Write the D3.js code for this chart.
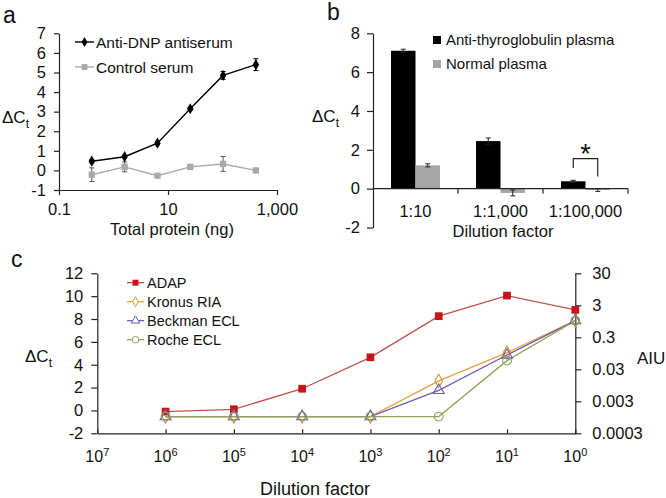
<!DOCTYPE html>
<html><head><meta charset="utf-8">
<script src="https://cdn.jsdelivr.net/npm/d3@7/dist/d3.min.js"></script>
<style>
body{margin:0;background:#fff}
svg{display:block}
text{font-family:Arial,"Liberation Sans",Helvetica,sans-serif;fill:#111}
</style>
</head><body>
<svg id="chart" width="666" height="498"></svg>
<script>
// ---------- Panel a data ----------
const aProtein = [0.4, 1.6, 6.4, 25.6, 102.4, 409.6];
const aAntiDNP = [0.47, 0.7, 1.39, 3.15, 4.85, 5.4];
const aAntiDNPErr = [0.08, 0.06, 0.08, 0.08, 0.2, 0.3];
const aControl = [-0.22, 0.18, -0.27, 0.18, 0.33, 0.0];
const aControlErr = [0.35, 0.25, 0.05, 0.06, 0.38, 0.05];
const aXTicks = [0.1, 10, 1000];
const aXTickLabels = ["0.1", "10", "1,000"];
const aYTicks = [-1, 0, 1, 2, 3, 4, 5, 6, 7];
const aSeriesNames = ["Anti-DNP antiserum", "Control serum"];

// ---------- Panel b data ----------
const bCategories = ["1:10", "1:1,000", "1:100,000"];
const bAntiTg = [7.1, 2.45, 0.38];
const bAntiTgErr = [0.08, 0.16, 0.05];
const bNormal = [1.2, -0.22, -0.07];
const bNormalErr = [0.08, 0.15, 0.07];
const bYTicks = [-2, 0, 2, 4, 6, 8];
const bSeriesNames = ["Anti-thyroglobulin plasma", "Normal plasma"];

// ---------- Panel c data ----------
const cDilution = [1e6, 1e5, 1e4, 1e3, 1e2, 1e1, 1];
const cADAP = [-0.1, 0.1, 1.9, 4.65, 8.25, 10.05, 8.8];       // ΔCt (left axis)
const cKronus = [0.001, 0.001, 0.001, 0.001, 0.013, 0.10, 1.0]; // AIU (right axis)
const cBeckman = [0.001, 0.001, 0.001, 0.001, 0.0066, 0.084, 1.0];
const cRoche = [0.001, 0.001, 0.001, 0.001, 0.001, 0.056, 1.0];
const cXTickExps = [7, 6, 5, 4, 3, 2, 1, 0];
const cLeftTicks = [-2, 0, 2, 4, 6, 8, 10, 12];
const cRightTicks = [0.0003, 0.003, 0.03, 0.3, 3, 30];
const cRightTickLabels = ["0.0003", "0.003", "0.03", "0.3", "3", "30"];
const cSeriesNames = ["ADAP", "Kronus RIA", "Beckman ECL", "Roche ECL"];

const svg = d3.select("#chart");
const AX = "#222";
const TICKFONT = 16.5;
const intFmt = d => String(d);

function styleAxis(g, fs) {
  g.attr("font-size", fs).attr("font-family", "Arial, 'Liberation Sans', sans-serif");
  g.selectAll("path.domain").attr("stroke", AX).attr("stroke-width", 1.2);
  g.selectAll(".tick line").attr("stroke", AX).attr("stroke-width", 1.2);
  g.selectAll(".tick text").attr("fill", "#111");
}
function deltaCt(x, y, fs) {
  const t = svg.append("text").attr("x", x).attr("y", y).attr("font-size", fs);
  t.append("tspan").text("ΔC");
  t.append("tspan").attr("font-size", fs * 0.72).attr("dy", fs * 0.28).text("t");
}
function panelLabel(x, y, s) {
  svg.append("text").attr("x", x).attr("y", y).attr("font-size", 23).text(s);
}

// =============== Panel a ===============
{
  const x = d3.scaleLog().domain([0.1, 1000]).range([59, 277]);
  const y = d3.scaleLinear().domain([-1, 7]).range([190, 33.3]);
  const g = svg.append("g");

  const ya = g.append("g").attr("transform", `translate(${x.range()[0]},0)`)
    .call(d3.axisLeft(y).tickValues(aYTicks).tickFormat(intFmt).tickSize(5).tickPadding(8).tickSizeOuter(0));
  styleAxis(ya, TICKFONT);
  const xa = g.append("g").attr("transform", `translate(0,${y(-1)})`)
    .call(d3.axisBottom(x).tickValues(aXTicks).tickFormat((d, i) => aXTickLabels[i]).tickSize(5).tickPadding(8).tickSizeOuter(0));
  styleAxis(xa, TICKFONT);

  const line = d3.line().x(d => x(d[0])).y(d => y(d[1]));
  const series = [
    {vals: aControl, err: aControlErr, color: "#a9a9a9", errColor: "#555", shape: d3.symbolSquare, size: 40},
    {vals: aAntiDNP, err: aAntiDNPErr, color: "#000", errColor: "#000", shape: d3.symbolDiamond, size: 36}
  ];
  series.forEach(s => {
    const pts = aProtein.map((p, i) => [p, s.vals[i], s.err[i]]);
    g.append("path").datum(pts).attr("d", line).attr("fill", "none").attr("stroke", s.color).attr("stroke-width", 1.4);
    pts.forEach(p => {
      const cx = x(p[0]);
      g.append("line").attr("x1", cx).attr("x2", cx).attr("y1", y(p[1] - p[2])).attr("y2", y(p[1] + p[2]))
        .attr("stroke", s.errColor).attr("stroke-width", 1);
      [p[1] - p[2], p[1] + p[2]].forEach(v => g.append("line").attr("x1", cx - 2.5).attr("x2", cx + 2.5)
        .attr("y1", y(v)).attr("y2", y(v)).attr("stroke", s.errColor).attr("stroke-width", 1));
    });
    g.selectAll(null).data(pts).enter().append("path")
      .attr("d", d3.symbol().type(s.shape).size(s.size))
      .attr("transform", d => `translate(${x(d[0])},${y(d[1])})`)
      .attr("fill", s.color);
  });

  // legend
  const leg = [{name: aSeriesNames[0], color: "#000", shape: d3.symbolDiamond, size: 30},
               {name: aSeriesNames[1], color: "#a9a9a9", shape: d3.symbolSquare, size: 34}];
  leg.forEach((l, i) => {
    const ly = 42 + i * 25;
    g.append("line").attr("x1", 75).attr("x2", 94).attr("y1", ly).attr("y2", ly).attr("stroke", l.color).attr("stroke-width", 1.4);
    g.append("path").attr("d", d3.symbol().type(l.shape).size(l.size)).attr("transform", `translate(84.5,${ly})`).attr("fill", l.color);
    g.append("text").attr("x", 96).attr("y", ly).attr("dy", "0.36em").attr("font-size", 15.5).text(l.name);
  });

  g.append("text").attr("x", 172).attr("y", 235).attr("text-anchor", "middle").attr("font-size", 16.5).text("Total protein (ng)");
  deltaCt(2, 123, 17);
  panelLabel(3, 23, "a");
}

// =============== Panel b ===============
{
  const x = d3.scaleBand().domain(bCategories).range([373, 628]).paddingInner(0.424).paddingOuter(0.212);
  const xs = d3.scaleBand().domain(["tg", "normal"]).range([0, x.bandwidth()]);
  const y = d3.scaleLinear().domain([-2, 8]).range([227.5, 33.3]);
  const g = svg.append("g");

  const ya = g.append("g").attr("transform", `translate(373,0)`)
    .call(d3.axisLeft(y).tickValues(bYTicks).tickFormat(intFmt).tickSize(6).tickPadding(7).tickSizeOuter(0));
  styleAxis(ya, TICKFONT);

  const data = bCategories.map((c, i) => ({c, vals: [
    {k: "tg", v: bAntiTg[i], e: bAntiTgErr[i], color: "#000"},
    {k: "normal", v: bNormal[i], e: bNormalErr[i], color: "#a6a6a6"}]}));

  data.forEach(d => {
    d.vals.forEach(b => {
      const bx = x(d.c) + xs(b.k);
      g.append("rect").attr("x", bx).attr("width", xs.bandwidth())
        .attr("y", y(Math.max(0, b.v))).attr("height", Math.abs(y(b.v) - y(0))).attr("fill", b.color);
      const cx = bx + xs.bandwidth() / 2;
      g.append("line").attr("x1", cx).attr("x2", cx).attr("y1", y(b.v - b.e)).attr("y2", y(b.v + b.e)).attr("stroke", "#222").attr("stroke-width", 1);
      [b.v - b.e, b.v + b.e].forEach(v => g.append("line").attr("x1", cx - 2.5).attr("x2", cx + 2.5)
        .attr("y1", y(v)).attr("y2", y(v)).attr("stroke", "#222").attr("stroke-width", 1));
    });
  });

  // x axis at zero
  const y0 = y(0);
  g.append("line").attr("x1", 373).attr("x2", 628).attr("y1", y0).attr("y2", y0).attr("stroke", AX).attr("stroke-width", 1.2);
  bCategories.forEach((c, i) => {
    const bx = x.range()[0] + x.step() * (i + 1);
    g.append("line").attr("x1", bx).attr("x2", bx).attr("y1", y0).attr("y2", y0 + 5).attr("stroke", AX).attr("stroke-width", 1.2);
    g.append("text").attr("x", x(c) + x.bandwidth() / 2).attr("y", y0 + 28).attr("text-anchor", "middle")
      .attr("font-size", TICKFONT).text(c);
  });

  // significance bracket
  const c3 = bCategories[2];
  const lx = x(c3) + xs("tg") + xs.bandwidth() / 2;
  const rx = x(c3) + xs("normal") + xs.bandwidth() / 2;
  g.append("path").attr("d", `M${lx},${y(1.06)}V${y(1.55)}H${rx}V${y(0.62)}`)
    .attr("fill", "none").attr("stroke", "#222").attr("stroke-width", 1.2);
  g.append("text").attr("x", (lx + rx) / 2).attr("y", y(1.55) + 4).attr("text-anchor", "middle").attr("font-size", 27).text("*");

  // legend
  [{n: bSeriesNames[0], c: "#000"}, {n: bSeriesNames[1], c: "#a6a6a6"}].forEach((l, i) => {
    const ly = 40 + i * 24;
    g.append("rect").attr("x", 433).attr("y", ly - 4).attr("width", 8).attr("height", 8).attr("fill", l.c);
    g.append("text").attr("x", 446).attr("y", ly).attr("dy", "0.36em").attr("font-size", 15).text(l.n);
  });

  g.append("text").attr("x", 503).attr("y", 237).attr("text-anchor", "middle").attr("font-size", 16.5).text("Dilution factor");
  deltaCt(312, 122, 17);
  panelLabel(327, 20, "b");
}

// =============== Panel c ===============
{
  const x = d3.scaleLog().domain([1e7, 1]).range([97.3, 575.3]);
  const yL = d3.scaleLinear().domain([-2, 12]).range([433.3, 273.3]);
  const yR = d3.scaleLog().domain([0.0003, 30]).range([433.3, 273.3]);
  const g = svg.append("g");

  const la = g.append("g").attr("transform", `translate(${x.range()[0]},0)`)
    .call(d3.axisLeft(yL).tickValues(cLeftTicks).tickFormat(intFmt).tickSize(6).tickPadding(8).tickSizeOuter(0));
  styleAxis(la, TICKFONT);
  const ra = g.append("g").attr("transform", `translate(${x.range()[1]},0)`)
    .call(d3.axisRight(yR).tickValues(cRightTicks).tickFormat((d, i) => cRightTickLabels[i]).tickSize(6).tickPadding(11).tickSizeOuter(0));
  styleAxis(ra, TICKFONT);
  const ba = g.append("g").attr("transform", `translate(0,${yL(-2)})`)
    .call(d3.axisBottom(x).tickValues(cXTickExps.map(e => Math.pow(10, e))).tickFormat("").tickSize(-4).tickSizeOuter(0));
  styleAxis(ba, TICKFONT);
  cXTickExps.forEach(e => {
    const t = g.append("text").attr("x", x(Math.pow(10, e))).attr("y", 462).attr("text-anchor", "middle").attr("font-size", 16);
    t.append("tspan").text("10");
    t.append("tspan").attr("dy", -6).attr("font-size", 11).text(String(e));
  });

  const series = [
    {vals: cADAP, scale: yL, line: "#c0504d", stroke: "#c0141c", fill: "#c8141c", shape: d3.symbolSquare, size: 60, lsize: 36},
    {vals: cKronus, scale: yR, line: "#e8a040", stroke: "#e0902c", fill: "#fff", shape: d3.symbolDiamond, size: 50, lsize: 28},
    {vals: cBeckman, scale: yR, line: "#6e5cb8", stroke: "#6e5cb8", fill: "#fff", shape: d3.symbolTriangle, size: 52, lsize: 30},
    {vals: cRoche, scale: yR, line: "#8fa35e", stroke: "#8fa35e", fill: "#fff", shape: d3.symbolCircle, size: 60, lsize: 34}
  ];
  series.forEach(s => {
    const pts = cDilution.map((d, i) => [d, s.vals[i]]);
    g.append("path").datum(pts).attr("d", d3.line().x(d => x(d[0])).y(d => s.scale(d[1])))
      .attr("fill", "none").attr("stroke", s.line).attr("stroke-width", 1.3);
  });
  series.forEach(s => {
    const pts = cDilution.map((d, i) => [d, s.vals[i]]);
    g.selectAll(null).data(pts).enter().append("path")
      .attr("d", d3.symbol().type(s.shape).size(s.size))
      .attr("transform", d => `translate(${x(d[0])},${s.scale(d[1])})`)
      .attr("fill", s.fill === "#fff" ? "none" : s.fill).attr("stroke", s.stroke).attr("stroke-width", s.fill === "#fff" ? 1.1 : 0);
  });

  // legend
  series.forEach((s, i) => {
    const ly = 282.7 + i * 19;
    g.append("line").attr("x1", 127).attr("x2", 144).attr("y1", ly).attr("y2", ly).attr("stroke", s.line).attr("stroke-width", 1.3);
    g.append("path").attr("d", d3.symbol().type(s.shape).size(s.lsize)).attr("transform", `translate(135.5,${ly})`)
      .attr("fill", s.fill === "#fff" ? "#fff" : s.fill).attr("stroke", s.stroke).attr("stroke-width", s.fill === "#fff" ? 1 : 0);
    g.append("text").attr("x", 147).attr("y", ly).attr("dy", "0.36em").attr("font-size", 14.5).text(cSeriesNames[i]);
  });

  deltaCt(25, 362, 17);
  g.append("text").attr("x", 637).attr("y", 364).attr("font-size", 17).text("AIU");
  g.append("text").attr("x", 315).attr("y", 495).attr("text-anchor", "middle").attr("font-size", 18).text("Dilution factor");
  panelLabel(11, 267, "c");
}
</script>
</body></html>
